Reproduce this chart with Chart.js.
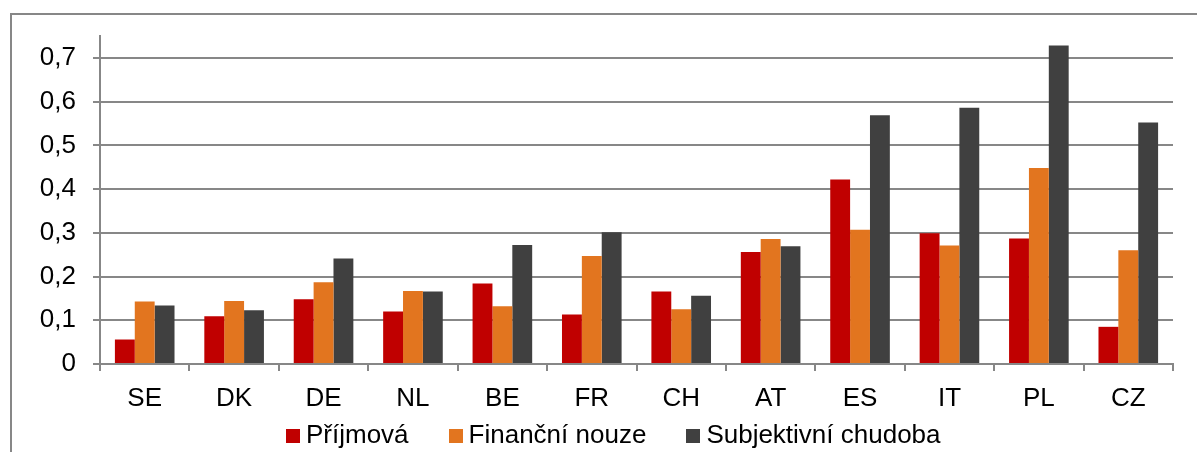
<!DOCTYPE html>
<html>
<head>
<meta charset="utf-8">
<script src="https://cdn.jsdelivr.net/npm/chart.js@4"></script>
<style>
html,body{margin:0;padding:0;background:#fff;}
#wrap{position:relative;width:1197px;height:452px;overflow:hidden;font-family:"Liberation Sans",Arial,sans-serif;}
#frame{position:absolute;left:10px;top:13px;width:1300px;height:600px;border:2px solid #878787;box-sizing:border-box;}
#c{position:absolute;left:0;top:0;}
#legend{position:absolute;left:286px;top:419px;display:flex;font-size:26px;line-height:30px;color:#000;white-space:nowrap;}
.item{margin-right:40px;}
.box{display:inline-block;width:14px;height:14px;margin-right:6px;vertical-align:baseline;}
</style>
</head>
<body>
<div id="wrap">
  <div id="frame"></div>
  <canvas id="c" width="1197" height="452"></canvas>
  <div id="legend"></div>
</div>
<script>
const categories = ['SE','DK','DE','NL','BE','FR','CH','AT','ES','IT','PL','CZ'];
const seriesNames = ['Příjmová','Finanční nouze','Subjektivní chudoba'];
const prijmova    = [0.056,0.109,0.148,0.120,0.184,0.113,0.166,0.256,0.422,0.299,0.287,0.085];
const financni    = [0.143,0.144,0.187,0.167,0.132,0.247,0.125,0.286,0.307,0.271,0.448,0.260];
const subjektivni = [0.134,0.123,0.241,0.166,0.272,0.301,0.156,0.269,0.569,0.586,0.728,0.552];
const yTickValues = [0,0.1,0.2,0.3,0.4,0.5,0.6,0.7];
const yTickLabels = ['0','0,1','0,2','0,3','0,4','0,5','0,6','0,7'];
const colors = ['#C00000','#E2751F','#404040'];

const seriesValues = [prijmova, financni, subjektivni];
const FONT = {family:'"Liberation Sans", Arial, sans-serif', size:26};
const GRID = '#878787';

new Chart(document.getElementById('c'), {
  type: 'bar',
  data: {
    labels: categories,
    datasets: seriesValues.map((vals, i) => ({
      label: seriesNames[i],
      data: vals,
      backgroundColor: colors[i],
      borderWidth: 0,
      categoryPercentage: 0.6667,
      barPercentage: 1.0
    }))
  },
  options: {
    responsive: false,
    animation: false,
    layout: {padding: {left: 0, right: 24, top: 36, bottom: 38}},
    plugins: {legend: {display: false}, tooltip: {enabled: false}},
    scales: {
      x: {
        grid: {offset: true, drawOnChartArea: false, drawTicks: true, tickLength: 7, color: GRID, lineWidth: 2},
        border: {display: true, color: GRID, width: 2},
        ticks: {font: FONT, color: '#000', padding: 12, maxRotation: 0, autoSkip: false},
        afterFit: s => { s.height = 50; }
      },
      y: {
        min: 0, max: 0.75,
        grid: {color: GRID, lineWidth: 2, tickLength: 7, drawTicks: true},
        border: {display: true, color: GRID, width: 2},
        ticks: {
          font: FONT, color: '#000', padding: 17,
          callback: (v) => { const k = yTickValues.findIndex(t => Math.abs(t - v) < 1e-9); return k >= 0 ? yTickLabels[k] : ''; }
        },
        afterBuildTicks: s => { s.ticks = yTickValues.map(v => ({value: v})); },
        afterFit: s => { s.width = 100; }
      }
    }
  }
});

const lg = document.getElementById('legend');
seriesNames.forEach((n, i) => {
  const it = document.createElement('span');
  it.className = 'item';
  const b = document.createElement('span');
  b.className = 'box';
  b.style.background = colors[i];
  it.appendChild(b);
  it.appendChild(document.createTextNode(n));
  lg.appendChild(it);
});
</script>
</body>
</html>
